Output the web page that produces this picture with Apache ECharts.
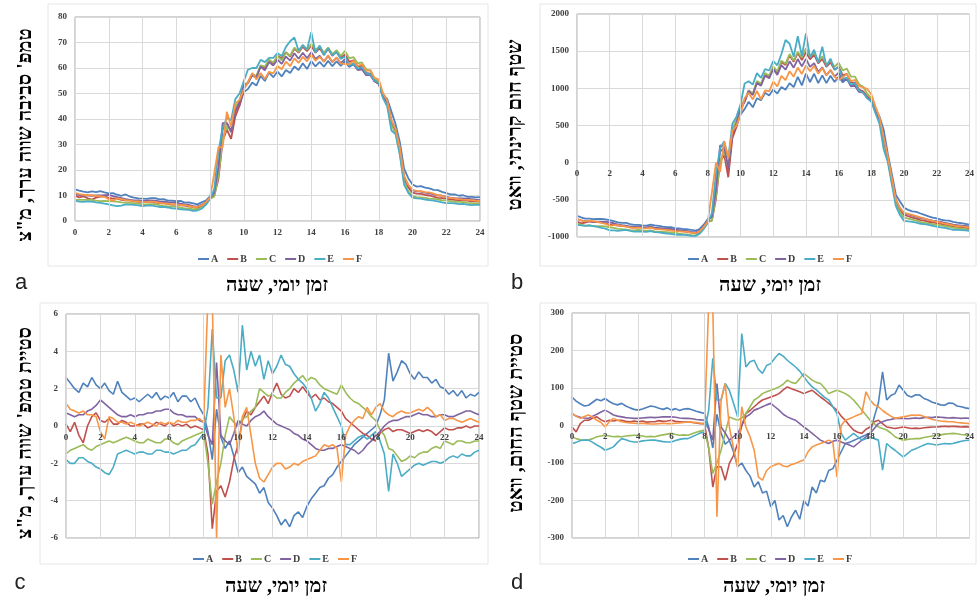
<!DOCTYPE html>
<html><head><meta charset="utf-8">
<script src="https://cdn.jsdelivr.net/npm/echarts@6/dist/echarts.min.js"></script>
<style>html,body{margin:0;padding:0;background:#fff}#c{width:977px;height:601px}</style>
</head><body><div id="c"></div>
<script>
const hours=[0,0.25,0.5,0.75,1,1.25,1.5,1.75,2,2.25,2.5,2.75,3,3.25,3.5,3.75,4,4.25,4.5,4.75,5,5.25,5.5,5.75,6,6.25,6.5,6.75,7,7.25,7.5,7.75,8,8.25,8.5,8.75,9,9.25,9.5,9.75,10,10.25,10.5,10.75,11,11.25,11.5,11.75,12,12.25,12.5,12.75,13,13.25,13.5,13.75,14,14.25,14.5,14.75,15,15.25,15.5,15.75,16,16.25,16.5,16.75,17,17.25,17.5,17.75,18,18.25,18.5,18.75,19,19.25,19.5,19.75,20,20.25,20.5,20.75,21,21.25,21.5,21.75,22,22.25,22.5,22.75,23,23.25,23.5,23.75,24];
const names=['A','B','C','D','E','F'];

// panel a: equivalent ambient temperature
const tempA=[12.4,11.9,11.5,11.2,11.6,11.3,11.7,11.2,10.8,10.9,10.3,9.9,10.4,9.6,9.2,8.9,8.8,8.7,9.0,9.0,8.5,8.6,8.0,8.0,7.8,7.9,7.2,7.3,6.9,6.5,7.3,8.0,9.6,11.2,20.2,35.9,38.4,34.8,43.2,45.4,50.5,51.8,54.3,53.1,56.9,54.9,58.2,56.4,58.6,56.7,59.2,58.0,60.6,59.2,61.9,59.6,62.7,60.6,62.4,60.5,62.8,60.7,62.6,60.8,62.6,60.4,61.5,59.5,60.2,57.9,57.8,55.3,54.5,49.6,47.9,42.9,37.9,30.9,20.5,16.8,14.3,13.5,13.7,13.1,12.8,12.2,12.1,11.4,10.9,10.4,10.4,9.9,10.1,9.5,9.5,9.3,9.4];
const tempB=[9.9,9.3,9.7,8.9,8.4,9.2,9.6,9.7,9.1,8.8,8.8,8.3,8.1,8.1,7.8,7.5,7.3,7.5,7.6,7.2,7.0,7.0,6.7,6.4,6.5,6.1,6.0,5.7,5.4,5.1,5.8,6.9,8.8,10.0,16.5,31.5,35.8,32.2,41.0,45.2,52.0,54.3,57.8,56.6,61.0,59.8,63.1,61.7,64.8,63.8,66.2,64.5,67.6,66.0,68.3,66.6,68.8,66.0,67.7,65.2,67.5,64.8,66.4,64.0,65.3,62.4,63.0,60.5,60.8,58.1,57.7,54.8,53.7,48.6,46.3,38.9,35.2,27.8,16.8,13.2,11.1,10.7,10.6,10.2,10.0,9.6,9.1,9.0,8.8,8.5,8.3,8.2,8.1,8.0,7.7,7.7,7.6];
const tempC=[8.3,8.3,8.3,8.3,8.3,8.0,7.8,7.9,7.8,7.7,7.6,7.3,7.2,7.1,7.0,6.8,6.5,6.5,6.6,6.6,6.2,5.9,5.7,5.7,5.6,5.2,4.9,4.9,4.6,4.6,5.3,6.6,8.7,9.5,17.8,32.0,37.0,35.5,44.5,47.2,53.0,54.4,57.5,56.8,61.0,60.5,63.3,62.1,64.7,63.0,66.0,64.8,68.0,66.3,69.0,67.2,69.4,67.1,68.5,66.0,68.0,65.4,67.0,64.7,66.7,63.8,64.3,61.8,62.2,59.5,59.0,56.0,54.8,48.8,46.0,37.8,34.2,26.4,15.1,11.7,9.9,9.3,9.3,9.1,8.8,8.7,8.5,8.1,8.1,7.8,7.5,7.5,7.4,7.1,6.9,6.9,6.8];
const tempD=[10.5,10.2,10.0,10.0,9.9,10.0,10.0,10.1,10.2,9.8,9.4,9.0,8.6,8.3,8.1,8.1,7.8,8.0,8.1,8.0,7.7,7.6,7.4,7.3,7.2,6.8,6.5,6.3,5.8,5.7,6.3,7.3,9.2,11.0,21.0,38.4,38.5,35.2,43.0,46.6,53.3,54.1,57.0,56.3,60.5,59.1,62.3,61.0,63.3,61.6,64.5,62.9,65.8,63.6,66.0,63.8,66.2,63.5,64.8,62.5,64.7,62.3,64.0,61.9,63.5,60.9,61.6,59.2,59.5,57.2,57.2,54.7,54.0,48.7,46.5,39.2,35.8,28.3,17.4,14.0,12.0,11.6,11.5,11.1,10.8,10.4,10.1,9.9,9.5,9.2,9.0,8.9,8.9,8.8,8.6,8.4,8.2];
const tempE=[8.0,7.6,7.5,7.7,7.6,7.3,7.1,6.8,6.5,6.1,5.8,6.0,6.5,6.4,6.3,6.1,5.8,6.0,6.1,5.8,5.5,5.5,5.3,5.0,4.9,4.6,4.5,4.4,4.0,4.1,4.8,6.3,8.6,12.5,27.2,36.5,40.5,39.5,47.8,50.0,54.8,59.4,60.0,60.0,63.2,62.3,64.0,64.0,65.8,64.7,68.3,70.5,72.0,66.8,69.0,67.2,74.0,66.0,68.8,65.0,67.8,65.0,66.2,63.5,64.5,61.0,61.8,59.7,60.4,58.0,57.5,55.0,54.2,48.2,45.0,35.5,34.0,26.0,14.3,11.0,9.2,8.9,8.8,8.4,8.2,8.0,7.7,7.3,7.0,7.0,6.9,6.6,6.7,6.4,6.2,6.3,6.3];
const tempF=[11.0,10.5,10.3,10.1,10.1,9.8,9.7,9.5,8.5,7.9,8.9,8.6,8.2,8.0,7.7,7.7,7.4,7.4,7.6,7.5,7.1,6.8,6.8,6.5,6.5,6.2,6.2,5.9,5.5,5.5,6.1,7.4,9.2,18.5,29.0,29.0,42.8,37.0,46.0,47.5,51.5,54.5,58.0,55.5,58.0,55.7,58.5,57.9,60.8,59.5,62.5,60.7,63.8,62.0,64.4,62.6,65.2,62.8,64.4,62.5,65.0,62.4,64.2,61.8,61.5,61.5,62.8,60.8,61.5,58.9,59.2,56.1,55.5,50.2,47.3,39.6,36.0,28.7,17.8,14.2,12.2,11.8,11.7,11.3,11.2,10.7,10.1,9.9,9.2,9.1,8.9,8.6,8.4,8.3,8.2,8.0,7.8];

// panel b: radiant heat flux, W
const fluxA=[-714,-735,-752,-753,-761,-758,-755,-764,-773,-786,-802,-810,-811,-828,-838,-837,-844,-846,-832,-843,-850,-859,-867,-868,-884,-885,-895,-896,-905,-913,-892,-835,-758,-724,-380,150,200,-100,390,490,650,720,820,745,866,840,940,905,983,930,1018,980,1070,1016,1154,1040,1200,1085,1196,1070,1174,1070,1170,1085,1158,1080,1132,1035,1050,965,950,875,829,723,620,443,128,-150,-435,-522,-606,-635,-654,-663,-684,-703,-722,-738,-751,-765,-776,-780,-796,-808,-815,-823,-835];
const fluxB=[-794,-817,-805,-791,-801,-800,-802,-815,-835,-836,-848,-851,-856,-869,-875,-868,-875,-878,-871,-885,-890,-892,-899,-903,-911,-919,-925,-931,-940,-947,-923,-865,-785,-780,-484,10,110,-196,329,480,712,820,972,920,1080,1050,1188,1152,1276,1210,1355,1315,1443,1358,1474,1380,1485,1390,1454,1335,1396,1288,1349,1250,1291,1175,1194,1080,1078,982,959,890,846,710,574,305,56,-236,-528,-636,-704,-721,-738,-752,-773,-781,-795,-804,-814,-823,-832,-843,-857,-863,-869,-873,-884];
const fluxC=[-820,-835,-848,-844,-854,-855,-855,-858,-871,-878,-890,-894,-900,-908,-912,-906,-911,-918,-910,-924,-930,-932,-935,-938,-946,-954,-961,-965,-976,-977,-948,-885,-802,-780,-448,20,154,-70,453,578,774,840,972,930,1098,1065,1205,1170,1294,1228,1373,1330,1461,1375,1492,1415,1539,1430,1481,1365,1432,1320,1375,1290,1344,1240,1265,1158,1158,1055,1021,928,864,705,556,292,48,-250,-550,-665,-739,-752,-766,-780,-800,-807,-820,-828,-836,-845,-853,-862,-876,-882,-889,-895,-906];
const fluxD=[-758,-775,-788,-785,-796,-795,-795,-794,-804,-815,-832,-840,-847,-859,-865,-861,-866,-870,-859,-873,-879,-883,-887,-892,-902,-908,-915,-921,-931,-937,-914,-855,-776,-730,-359,232,216,-70,391,530,739,820,963,910,1071,1035,1170,1135,1259,1180,1311,1250,1363,1278,1394,1295,1396,1288,1339,1220,1281,1176,1242,1158,1211,1106,1132,1028,1033,952,941,870,829,692,565,310,74,-214,-501,-611,-681,-697,-711,-725,-746,-754,-768,-779,-787,-798,-809,-820,-834,-840,-846,-850,-861];
const fluxE=[-838,-845,-850,-844,-854,-865,-877,-888,-911,-912,-917,-910,-905,-918,-927,-924,-929,-931,-920,-934,-939,-946,-953,-959,-969,-970,-972,-975,-985,-985,-955,-890,-807,-680,-141,188,288,62,524,620,783,1065,1096,1050,1204,1140,1259,1240,1365,1310,1462,1650,1600,1425,1700,1435,1740,1415,1520,1345,1560,1295,1400,1250,1282,1129,1141,1050,1069,970,941,865,820,665,521,181,12,-288,-586,-705,-784,-790,-796,-807,-822,-827,-838,-850,-862,-870,-878,-889,-903,-905,-907,-910,-919];
const fluxF=[-758,-775,-791,-781,-787,-798,-811,-822,-849,-840,-841,-851,-860,-872,-878,-874,-880,-884,-875,-891,-896,-900,-904,-910,-920,-924,-928,-932,-940,-946,-922,-864,-785,-400,0,-123,288,62,426,500,650,870,936,850,964,853,974,960,1090,1025,1169,1112,1230,1156,1279,1194,1308,1230,1303,1198,1272,1176,1251,1155,1113,1150,1194,1098,1113,1028,1012,990,918,755,610,340,92,-205,-501,-609,-677,-690,-702,-718,-737,-751,-770,-784,-796,-808,-819,-830,-845,-852,-858,-864,-875];

// panel c: deviation of equivalent temperature
const devTA=[2.6,2.3,2.0,1.8,2.3,2.1,2.6,2.2,2.0,2.3,1.9,1.7,2.4,1.8,1.6,1.4,1.5,1.3,1.5,1.7,1.5,1.8,1.4,1.6,1.5,1.8,1.3,1.6,1.6,1.3,1.5,1.0,0.6,-0.3,-1.8,0.9,-0.6,-1.2,-0.8,-1.6,-2.5,-2.2,-2.7,-2.9,-3.1,-3.6,-3.3,-4.1,-4.4,-4.8,-5.3,-5.0,-5.4,-4.8,-4.6,-4.9,-4.3,-3.9,-3.6,-3.3,-3.2,-2.8,-2.6,-2.2,-1.9,-1.6,-1.3,-1.0,-0.8,-0.6,-0.4,-0.2,0.0,0.6,1.4,3.9,2.4,2.9,3.5,3.3,2.8,2.5,2.9,2.6,2.6,2.3,2.5,2.1,2.0,1.7,1.9,1.6,1.9,1.5,1.7,1.6,1.8];
const devTB=[0.1,-0.3,0.2,-0.5,-0.9,0.0,0.5,0.7,0.3,0.2,0.4,0.1,0.1,0.3,0.2,0.0,0.0,0.1,0.1,-0.1,0.0,0.2,0.1,0.0,0.2,0.0,0.1,0.0,0.1,-0.1,0.0,-0.1,-0.2,-1.5,-5.5,-3.5,-3.2,-3.8,-3.0,-1.8,-1.0,0.3,0.8,0.6,1.0,1.3,1.6,1.2,1.8,2.3,1.7,1.5,1.6,2.0,1.8,2.1,1.8,1.5,1.7,1.4,1.5,1.3,1.2,1.0,0.8,0.4,0.2,0.0,-0.2,-0.4,-0.5,-0.7,-0.8,-0.4,-0.2,-0.1,-0.3,-0.2,-0.2,-0.3,-0.4,-0.3,-0.2,-0.3,-0.2,-0.3,-0.5,-0.3,-0.1,-0.2,-0.2,-0.1,-0.1,0.0,-0.1,0.0,0.0];
const devTC=[-1.5,-1.3,-1.2,-1.1,-1.0,-1.2,-1.3,-1.1,-1.0,-0.9,-0.8,-0.9,-0.8,-0.7,-0.6,-0.7,-0.8,-0.9,-0.9,-0.7,-0.8,-0.9,-0.9,-0.7,-0.7,-0.9,-1.0,-0.8,-0.7,-0.6,-0.5,-0.4,-0.3,-2.0,-4.2,-3.0,-2.0,-0.5,0.5,0.2,0.0,0.4,0.5,0.8,1.0,2.0,1.8,1.6,1.7,1.5,1.5,1.8,2.0,2.3,2.5,2.7,2.4,2.6,2.5,2.2,2.0,1.9,1.8,1.7,2.2,1.8,1.5,1.3,1.2,1.0,0.8,0.5,0.3,-0.2,-0.5,-1.2,-1.3,-1.6,-1.9,-1.8,-1.6,-1.7,-1.5,-1.4,-1.4,-1.2,-1.1,-1.2,-0.8,-0.9,-1.0,-0.8,-0.8,-0.9,-0.9,-0.8,-0.8];
const devTD=[0.7,0.6,0.5,0.6,0.6,0.8,0.9,1.1,1.4,1.2,1.0,0.8,0.6,0.5,0.5,0.6,0.5,0.6,0.6,0.7,0.7,0.8,0.8,0.9,0.9,0.7,0.6,0.6,0.5,0.5,0.5,0.3,0.2,-0.5,-1.0,3.4,-0.5,-0.8,-1.0,-0.4,0.3,0.1,0.0,0.3,0.5,0.6,0.8,0.5,0.3,0.1,0.0,-0.1,-0.2,-0.4,-0.5,-0.7,-0.8,-1.0,-1.2,-1.3,-1.3,-1.2,-1.2,-1.1,-1.0,-1.1,-1.2,-1.3,-1.5,-1.3,-1.0,-0.8,-0.5,-0.3,0.0,0.2,0.3,0.3,0.4,0.5,0.5,0.6,0.7,0.6,0.6,0.5,0.5,0.6,0.6,0.5,0.5,0.6,0.7,0.8,0.8,0.7,0.6];
const devTE=[-1.8,-2.0,-2.0,-1.7,-1.7,-1.9,-2.0,-2.2,-2.3,-2.5,-2.6,-2.2,-1.5,-1.4,-1.3,-1.4,-1.5,-1.4,-1.4,-1.5,-1.5,-1.3,-1.3,-1.4,-1.4,-1.5,-1.4,-1.3,-1.3,-1.1,-1.0,-0.7,-0.4,1.0,5.2,1.5,1.5,3.5,3.8,3.0,1.8,5.4,3.0,4.0,3.2,3.8,2.5,3.5,2.8,3.2,3.8,3.3,3.2,2.8,2.5,2.3,2.0,1.5,0.8,1.2,1.8,1.5,1.0,0.5,0.0,-1.0,-1.0,-0.8,-0.6,-0.5,-0.7,-0.5,-0.3,-0.8,-1.5,-3.5,-1.5,-2.0,-2.7,-2.5,-2.3,-2.1,-2.0,-2.1,-2.0,-1.9,-1.9,-2.0,-1.9,-1.7,-1.6,-1.7,-1.5,-1.6,-1.6,-1.4,-1.3];
const devTF=[1.2,0.9,0.8,0.7,0.8,0.6,0.6,0.5,-0.3,-0.7,0.5,0.4,0.2,0.2,0.1,0.2,0.1,0.0,0.1,0.2,0.1,0.0,0.2,0.1,0.2,0.1,0.3,0.2,0.2,0.3,0.3,0.4,0.2,7.0,7.0,-6.0,3.8,1.0,2.0,0.5,-1.5,0.5,1.0,-0.5,-2.0,-2.8,-3.0,-2.6,-2.2,-2.0,-2.0,-2.3,-2.2,-2.0,-2.1,-1.9,-1.8,-1.7,-1.6,-1.3,-1.0,-1.1,-1.0,-1.2,-3.0,-0.5,0.0,0.3,0.5,0.4,1.0,0.6,1.0,1.2,0.8,0.6,0.5,0.7,0.8,0.7,0.7,0.8,0.9,0.8,1.0,0.8,0.5,0.6,0.3,0.4,0.4,0.3,0.2,0.3,0.4,0.3,0.2];

// panel d: deviation of heat flux, W
const devFA=[76,65,58,52,54,62,70,66,72,64,58,55,59,52,47,43,41,44,48,52,50,46,43,47,41,45,40,44,45,42,38,35,32,-4,-60,30,-20,-50,-40,-70,-110,-100,-120,-135,-164,-150,-180,-175,-217,-200,-252,-240,-270,-244,-226,-250,-200,-215,-164,-180,-146,-150,-120,-115,-92,-70,-48,-45,-40,-35,-30,-25,-21,23,60,143,68,80,85,108,94,80,76,82,81,72,68,62,59,55,54,60,59,52,50,47,45];
const devFB=[-4,-17,5,14,14,20,23,15,10,14,12,14,14,11,10,12,10,12,9,10,10,13,11,12,14,11,10,9,10,8,7,5,5,-60,-164,-110,-110,-146,-101,-80,-48,0,32,40,50,60,68,72,76,80,85,95,103,98,94,90,85,90,94,85,76,68,59,50,41,25,14,0,-12,-18,-21,-10,-4,10,14,5,-4,-6,-8,-6,-4,-6,-8,-7,-8,-6,-5,-4,-4,-3,-2,-3,-2,-3,-4,-3,-4];
const devFC=[-30,-35,-38,-39,-39,-35,-30,-28,-26,-28,-30,-29,-30,-28,-27,-26,-26,-28,-30,-29,-30,-27,-25,-23,-21,-24,-26,-25,-26,-22,-18,-15,-12,-60,-128,-100,-66,-20,23,18,14,20,32,50,68,75,85,90,94,98,103,110,121,115,112,125,139,130,121,115,112,100,85,90,94,90,85,78,68,55,41,28,14,5,-4,-8,-12,-20,-30,-35,-39,-37,-36,-35,-35,-32,-30,-28,-26,-25,-23,-22,-21,-22,-24,-25,-26];
const devFD=[32,25,22,20,19,25,30,36,41,35,28,25,23,21,20,19,19,20,21,22,21,22,23,23,23,22,20,19,19,18,16,15,14,-10,-39,112,-4,-20,-39,-30,-21,0,23,30,41,45,50,55,59,50,41,30,23,18,14,5,-4,-12,-21,-30,-39,-44,-48,-42,-39,-44,-48,-52,-57,-48,-39,-30,-21,-8,5,10,14,16,19,19,19,18,19,20,19,21,22,21,23,22,21,20,21,20,19,20,19];
const devFE=[-48,-45,-40,-39,-39,-45,-52,-58,-66,-62,-57,-45,-35,-38,-42,-44,-44,-41,-40,-39,-39,-41,-43,-44,-44,-40,-37,-35,-35,-30,-25,-20,-17,40,179,68,68,112,94,60,23,245,156,170,174,150,139,160,165,180,192,185,174,165,156,145,130,115,103,95,85,75,68,50,32,-21,-39,-30,-21,-30,-39,-35,-30,-35,-39,-119,-48,-58,-66,-75,-84,-75,-66,-62,-57,-52,-48,-50,-52,-50,-48,-49,-48,-45,-42,-40,-39];
const devFF=[32,25,19,24,28,22,14,8,-4,10,19,14,10,8,7,6,5,6,5,4,4,5,6,5,5,6,7,8,10,9,8,6,5,320,320,-243,68,112,-4,-60,-110,50,-4,-30,-66,-137,-146,-120,-110,-105,-101,-108,-110,-104,-101,-96,-92,-70,-57,-52,-48,-44,-39,-45,-137,0,14,18,23,28,32,90,68,55,50,40,32,25,19,21,23,25,28,27,28,24,20,16,14,12,11,10,10,8,7,6,5];

const yTitles=["טמפ' סביבה שווה ערך, מ\"צ","שטף חום קרינתי, וואט","סטיית טמפ' שווה ערך, מ\"צ","סטיית שטף החום, וואט"];
const xTitle="זמן יומי, שעה";
const panelLetters=['a','b','c','d'];

const colors=['#4F81BD','#C0504D','#9BBB59','#8064A2','#4BACC6','#F79646'];
const panelData=[
  [tempA,tempB,tempC,tempD,tempE,tempF],
  [fluxA,fluxB,fluxC,fluxD,fluxE,fluxF],
  [devTA,devTB,devTC,devTD,devTE,devTF],
  [devFA,devFB,devFC,devFD,devFE,devFF]
];
const yRange=[[0,80,10],[-1000,2000,500],[-6,6,2],[-300,300,100]];
const grids=[
  {left:75,top:17,width:405,height:204},
  {left:577,top:14,width:396,height:223},
  {left:66,top:314,width:413,height:224},
  {left:572,top:313,width:401,height:225}
];
const legendPos=[[193,249],[683,249],[188,549],[683,549]];
const yTitlePos=[[26,135],[516,125],[26,433],[517,423]];
const xTitlePos=[[277,286],[770,286],[276,587],[774,587]];
const letterPos=[[21,294],[517,294],[20,594],[517,594]];
const framePos=[[48,4,440,262],[540,4,436,262],[40,303,448,261],[540,303,436,261]];

const lblFont={fontFamily:'Liberation Serif',fontWeight:'bold',fontSize:9,color:'#404040'};
const option={animation:false,backgroundColor:'#fff',
  grid:grids.map(g=>Object.assign({show:true,borderColor:'#a6a6a6',borderWidth:1,backgroundColor:'transparent'},g)),
  xAxis:grids.map((g,p)=>{
    // x labels sit on the zero line of each panel
    const zeroFrac=(0-yRange[p][0])/(yRange[p][1]-yRange[p][0]);
    return {type:'value',gridIndex:p,min:0,max:24,interval:2,position:'bottom',offset:-g.height*zeroFrac,z:5,
    axisLine:{show:false,onZero:false},axisTick:{show:false},
    axisLabel:Object.assign({margin:7,hideOverlap:false},lblFont),
    splitLine:{show:true,lineStyle:{color:'#d9d9d9',width:1}}};}),
  yAxis:grids.map((g,p)=>({type:'value',gridIndex:p,min:yRange[p][0],max:yRange[p][1],interval:yRange[p][2],
    axisLine:{show:false,onZero:false},axisTick:{show:false},
    axisLabel:Object.assign({margin:8,formatter:v=>String(v)},lblFont),
    splitLine:{show:true,lineStyle:{color:'#d9d9d9',width:1}}})),
  legend:legendPos.map(lp=>({left:lp[0],top:lp[1],data:names,selectedMode:false,icon:'rect',itemWidth:11,itemHeight:2,itemGap:9,
    textStyle:{fontFamily:'Liberation Serif',fontWeight:'bold',fontSize:10,color:'#404040',padding:[0,0,0,-3]}})),
  series:[],
  graphic:[]
};
panelData.forEach((arrs,p)=>{
  arrs.forEach((arr,s)=>{
    option.series.push({type:'line',name:names[s],xAxisIndex:p,yAxisIndex:p,
      data:hours.map((h,i)=>[h,arr[i]]),showSymbol:false,symbol:'none',clip:true,
      lineStyle:{width:p<2?1.8:1.6,color:colors[s]},itemStyle:{color:colors[s]}});
  });
});
framePos.forEach(f=>option.graphic.push({type:'rect',shape:{x:f[0],y:f[1],width:f[2],height:f[3]},style:{fill:'none',stroke:'#e6e6e6',lineWidth:1},z:-1}));
yTitlePos.forEach((pos,p)=>option.graphic.push({type:'text',x:pos[0],y:pos[1],rotation:Math.PI/2,
  style:{text:yTitles[p],font:'bold 20px "Liberation Serif"',fill:'#000',textAlign:'center',textVerticalAlign:'middle',align:'center',verticalAlign:'middle'}}));
xTitlePos.forEach((pos,p)=>option.graphic.push({type:'text',x:pos[0],y:pos[1],
  style:{text:xTitle,font:'bold 20px "Liberation Serif"',fill:'#000',textAlign:'center',textVerticalAlign:'middle',align:'center',verticalAlign:'middle'}}));
letterPos.forEach((pos,p)=>option.graphic.push({type:'text',x:pos[0],y:pos[1],
  style:{text:panelLetters[p],font:'22px "Liberation Sans"',fill:'#222',textAlign:'center',textVerticalAlign:'bottom',align:'center',verticalAlign:'bottom'}}));

const chart=echarts.init(document.getElementById('c'),null,{renderer:'canvas'});
chart.setOption(option);
</script></body></html>
